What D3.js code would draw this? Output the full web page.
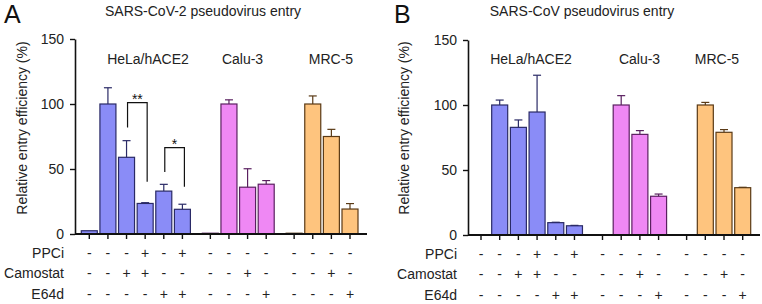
<!DOCTYPE html>
<html>
<head>
<meta charset="utf-8">
<script src="https://cdn.jsdelivr.net/npm/d3@7"></script>
<style>
    body { margin: 0; background: #fff; }
    svg { font-family: "Liberation Sans", Arial, Helvetica, sans-serif; }
</style>
</head>
<body>
<svg id="fig" width="762" height="304"></svg>
<script>

// which cell line each bar belongs to
const cellLines = ["HeLa/hACE2", "Calu-3", "MRC-5"];
const lineOf = [0, 0, 0, 0, 0, 0, 1, 1, 1, 1, 2, 2, 2, 2];

// treatment rows under the axis
const treatments = ["PPCi", "Camostat", "E64d"];
const ppci     = ["-", "-", "-", "+", "-", "+", "-", "-", "-", "-", "-", "-", "-", "-"];
const camostat = ["-", "-", "+", "+", "-", "-", "-", "-", "+", "-", "-", "-", "+", "-"];
const e64d     = ["-", "-", "-", "-", "+", "+", "-", "-", "-", "+", "-", "-", "-", "+"];

// relative entry efficiency (%) and upper error (SD)
const sars2Mean = [2.5, 100, 59, 23.5, 33, 19, 0.6, 100, 36, 38.3, 0.6, 100, 75, 19.2];
const sars2Err  = [0, 12.5, 12.8, 0.6, 5.2, 3.9, 0, 3.2, 14.2, 2.8, 0, 6.2, 5.5, 4.2];
const sars1Mean = [0, 100, 82.8, 94.6, 9.5, 7.1, 0, 100, 77.4, 29.8, 0, 100, 79, 36.4];
const sars1Err  = [0, 3.8, 5.7, 28.3, 0.3, 0.3, 0, 7.2, 2.9, 1.7, 0, 2, 2.1, 0.3];

// significance brackets (SARS-CoV-2, HeLa/hACE2): bar indices, top and leg ends in %
const sigFrom  = [2, 4];
const sigTo    = [3, 5];
const sigTop   = [101, 66.4];
const sigLeftEnd  = [82, 47.7];
const sigRightEnd = [40.2, 36.4];
const sigLabel = ["**", "*"];

const yTicks = [0, 50, 100, 150];

const fills   = ["#8a8cf7", "#ef88f4", "#fec47e"];
const strokes = ["#2a2a66", "#5a2060", "#5a3a16"];

// slot positions: bars side by side, 1.5 slots between cell lines
let slots = [];
let s = 0;
lineOf.forEach((l, i) => {
    if (i > 0) s += (l !== lineOf[i - 1]) ? 1.5 : 1;
    slots.push(s);
});

let svg = d3.select("#fig");

function drawPanel(cfg) {
    let g = svg.append("g");
    let x = d3.scaleLinear().domain([0, d3.max(slots)]).range([cfg.xFirst, cfg.xLast]);
    let y = d3.scaleLinear().domain([0, 150]).range([cfg.yZero, cfg.yZero - 195]);
    let barW = 16;

    // letter and title
    g.append("text").attr("x", cfg.letterX).attr("y", 23)
        .style("font-size", "25px").attr("fill", "#111").text(cfg.letter);
    g.append("text").attr("x", cfg.titleX).attr("y", 16)
        .attr("text-anchor", "middle").style("font-size", "14px").attr("fill", "#222")
        .text(cfg.title);

    // y axis
    let yAxis = g.append("g")
        .attr("transform", "translate(" + cfg.axisX + ",0)")
        .call(d3.axisLeft(y).tickValues(yTicks).tickSize(5).tickPadding(6).tickSizeOuter(0));
    yAxis.select(".domain").attr("stroke", "#111").attr("stroke-width", 1.6);
    yAxis.selectAll(".tick line").attr("stroke", "#111").attr("stroke-width", 1.4);
    yAxis.selectAll(".tick text").style("font-size", "14px").attr("fill", "#222")
        .attr("font-family", null);

    g.append("text")
        .attr("transform", "translate(" + cfg.yLabelX + ",128) rotate(-90)")
        .attr("text-anchor", "middle").attr("dy", "0.35em")
        .style("font-size", "14px").attr("fill", "#222")
        .text("Relative entry efficiency (%)");

    // bars
    let bars = slots.map((p, i) => ({ p: p, v: cfg.mean[i], e: cfg.err[i], line: lineOf[i] }));
    g.append("g").selectAll("rect")
        .data(bars.filter(d => d.v > 0))
        .join("rect")
        .attr("x", d => x(d.p) - barW / 2)
        .attr("y", d => y(d.v))
        .attr("width", barW)
        .attr("height", d => y(0) - y(d.v))
        .attr("fill", d => fills[d.line])
        .attr("stroke", d => strokes[d.line])
        .attr("stroke-width", 1.2);

    // error bars (upper only)
    let eg = g.append("g").selectAll("g")
        .data(bars.filter(d => d.e > 0))
        .join("g")
        .attr("stroke", d => strokes[d.line])
        .attr("stroke-width", 1.2);
    eg.append("line")
        .attr("x1", d => x(d.p)).attr("x2", d => x(d.p))
        .attr("y1", d => y(d.v)).attr("y2", d => y(d.v + d.e));
    eg.append("line")
        .attr("x1", d => x(d.p) - 4).attr("x2", d => x(d.p) + 4)
        .attr("y1", d => y(d.v + d.e)).attr("y2", d => y(d.v + d.e));

    // x axis line and ticks
    g.append("line")
        .attr("x1", cfg.axisX).attr("x2", cfg.axisEnd)
        .attr("y1", y(0)).attr("y2", y(0))
        .attr("stroke", "#111").attr("stroke-width", 1.8);
    g.append("g").selectAll("line")
        .data(slots)
        .join("line")
        .attr("x1", d => x(d)).attr("x2", d => x(d))
        .attr("y1", y(0)).attr("y2", y(0) + 5)
        .attr("stroke", "#111").attr("stroke-width", 1.4);

    // cell line labels
    g.append("g").selectAll("text")
        .data(cellLines)
        .join("text")
        .attr("x", (d, i) => cfg.groupLabelX[i])
        .attr("y", 64)
        .attr("text-anchor", "middle")
        .style("font-size", "14px").attr("fill", "#222")
        .text(d => d);

    // treatment table
    let rows = [ppci, camostat, e64d];
    let rowY = [24, 44, 65];
    rows.forEach((row, r) => {
        g.append("text")
            .attr("x", cfg.axisX - 11).attr("y", y(0) + rowY[r])
            .attr("text-anchor", "end")
            .style("font-size", "14px").attr("fill", "#222")
            .text(treatments[r]);
        g.append("g").selectAll("text")
            .data(row)
            .join("text")
            .attr("x", (d, i) => x(slots[i]))
            .attr("y", y(0) + rowY[r])
            .attr("text-anchor", "middle")
            .style("font-size", "14px").attr("fill", "#222")
            .text(d => d);
    });

    // significance brackets
    if (cfg.sig) {
        sigFrom.forEach((a, k) => {
            let xa = x(slots[a]) + 1, xb = x(slots[sigTo[k]]) + 2;
            g.append("path")
                .attr("d", "M" + xa + "," + y(sigLeftEnd[k]) + "V" + y(sigTop[k]) +
                    "H" + xb + "V" + y(sigRightEnd[k]))
                .attr("fill", "none").attr("stroke", "#111").attr("stroke-width", 1.2);
            g.append("text")
                .attr("x", (xa + xb) / 2).attr("y", y(sigTop[k]) + 1)
                .attr("text-anchor", "middle")
                .style("font-size", "14px").attr("fill", "#111")
                .text(sigLabel[k]);
        });
    }
}

drawPanel({
    letter: "A", letterX: 4, title: "SARS-CoV-2 pseudovirus entry", titleX: 203,
    mean: sars2Mean, err: sars2Err, sig: true,
    axisX: 75, axisEnd: 367, xFirst: 89.3, xLast: 350, yZero: 234,
    yLabelX: 22, groupLabelX: [148, 242.5, 331]
});

drawPanel({
    letter: "B", letterX: 394, title: "SARS-CoV pseudovirus entry", titleX: 582,
    mean: sars1Mean, err: sars1Err, sig: false,
    axisX: 468, axisEnd: 760, xFirst: 481, xLast: 742.7, yZero: 235,
    yLabelX: 404, groupLabelX: [531, 639.5, 717]
});

</script>
</body>
</html>
